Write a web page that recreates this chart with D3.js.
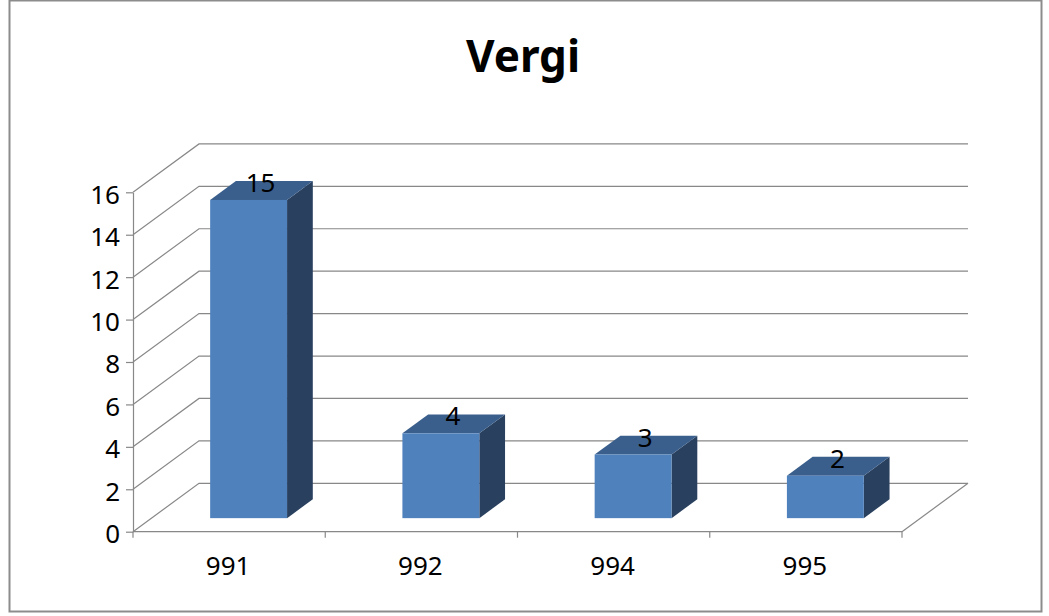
<!DOCTYPE html>
<html>
<head>
<meta charset="utf-8">
<script src="https://cdn.jsdelivr.net/npm/d3@7"></script>
<style>
  body { margin: 0; background: #fff; }
  svg text { font-family: "Noto Sans", "Open Sans", sans-serif; }
</style>
</head>
<body>
<div id="chart"></div>
<script>
// Data
const categories = ["991", "992", "994", "995"];
const values = [15, 4, 3, 2];
const yTicks = [0, 2, 4, 6, 8, 10, 12, 14, 16];
const title = "Vergi";

const width = 1049, height = 616;

const svg = d3.select("#chart")
    .append("svg")
        .attr("width", width)
        .attr("height", height);

// chart border
svg.append("rect")
    .attr("x", 9.5).attr("y", 0.5)
    .attr("width", 1032).attr("height", 611)
    .attr("fill", "#fff")
    .attr("stroke", "#8c8c8c")
    .attr("stroke-width", 2);

// Title
svg.append("text")
    .text(title)
    .attr("x", 523)
    .attr("y", 72)
    .attr("text-anchor", "middle")
    .style("font-size", "44px")
    .style("font-weight", "bold")
    .style("fill", "#000");

// Scales (front plane)
const xScale = d3.scaleBand()
    .domain(categories)
    .range([133, 902]);

const yScale = d3.scaleLinear()
    .domain([0, 16])
    .range([531.7, 192.3]);

// depth offset of the 3D box
const depthX = 66, depthY = 48.4;
const pt = (x, y, d) => [x + depthX * d, y - depthY * d];

const gridColor = "#888888";

// Walls: left side wall diagonals + back wall gridlines
const grid = svg.append("g");
yTicks.forEach(t => {
    const y = yScale(t);
    const [bx, by] = pt(133, y, 1);
    grid.append("path")
        .attr("d", `M133,${y}L${bx},${by}L${pt(902, y, 1)[0]},${by}`)
        .attr("fill", "none")
        .attr("stroke", gridColor)
        .attr("stroke-width", 1.2);
});

// Floor right edge
const [fx, fy] = pt(902, yScale(0), 1);
grid.append("line")
    .attr("x1", 902).attr("y1", yScale(0))
    .attr("x2", fx).attr("y2", fy)
    .attr("stroke", gridColor)
    .attr("stroke-width", 1.2);

// Y axis
const yAxis = svg.append("g")
    .attr("transform", "translate(133,0)")
    .call(d3.axisLeft(yScale).tickValues(yTicks).tickSize(7).tickSizeOuter(0).tickPadding(6));
yAxis.select(".domain").attr("stroke", gridColor).attr("stroke-width", 1.2);
yAxis.selectAll(".tick line").attr("stroke", gridColor).attr("stroke-width", 1.2);
yAxis.selectAll(".tick text")
    .attr("dy", "0.42em")
    .style("font-size", "26px")
    .style("font-family", "'Noto Sans', sans-serif")
    .attr("fill", "#000");

// X axis: line, ticks at band edges, labels at centers
const xAxis = svg.append("g");
xAxis.append("line")
    .attr("x1", 133).attr("x2", 902)
    .attr("y1", yScale(0)).attr("y2", yScale(0))
    .attr("stroke", gridColor)
    .attr("stroke-width", 1.2);
const edges = categories.map(c => xScale(c)).concat([xScale.range()[1]]);
xAxis.selectAll(".xtick")
    .data(edges)
    .join("line")
        .attr("class", "xtick")
        .attr("x1", d => d).attr("x2", d => d)
        .attr("y1", yScale(0)).attr("y2", yScale(0) + 6)
        .attr("stroke", gridColor)
        .attr("stroke-width", 1.2);
xAxis.selectAll(".xlabel")
    .data(categories)
    .join("text")
        .attr("class", "xlabel")
        .text(d => d)
        .attr("x", d => xScale(d) + xScale.bandwidth() / 2 - 1)
        .attr("y", 575)
        .attr("text-anchor", "middle")
        .style("font-size", "26px")
        .style("fill", "#000");

// Bars (3D boxes)
const barW = xScale.bandwidth() * 0.4;
const d0 = 0.28, d1 = 0.67;
const data = categories.map((c, i) => ({ cat: c, value: values[i] }));

const bar = svg.selectAll(".bar")
    .data(data)
    .join("g")
        .attr("class", "bar");

const poly = pts => "M" + pts.map(p => p.join(",")).join("L") + "Z";

bar.each(function(d) {
    const g = d3.select(this);
    const cx = xScale(d.cat) + xScale.bandwidth() / 2 + 1;
    const xl = cx - barW / 2, xr = cx + barW / 2;
    const y0 = yScale(0), y1 = yScale(d.value);
    const dd = d1 - d0;
    // front face corners
    const fl0 = pt(xl, y0, d0), fr0 = pt(xr, y0, d0);
    const fl1 = pt(xl, y1, d0), fr1 = pt(xr, y1, d0);
    // side face
    g.append("path")
        .attr("d", poly([fr0, fr1, pt(fr1[0], fr1[1], dd), pt(fr0[0], fr0[1], dd)]))
        .attr("fill", "#29405f");
    // top face
    g.append("path")
        .attr("d", poly([fl1, fr1, pt(fr1[0], fr1[1], dd), pt(fl1[0], fl1[1], dd)]))
        .attr("fill", "#3a5f8c");
    // front face
    g.append("rect")
        .attr("x", fl1[0])
        .attr("y", fl1[1])
        .attr("width", barW)
        .attr("height", fl0[1] - fl1[1])
        .attr("fill", "#4f81bd");
    // value label
    g.append("text")
        .text(d.value)
        .attr("x", fl1[0] + barW / 2 + 12)
        .attr("y", fl1[1] - 8)
        .attr("text-anchor", "middle")
        .style("font-size", "26px")
        .style("fill", "#000");
});
</script>
</body>
</html>
